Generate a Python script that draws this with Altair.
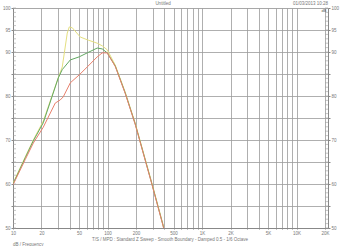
import altair as alt
import pandas as pd

# ---- data ----
yellow_f = [10, 13.5, 16.4, 20.9, 30.1, 33.2, 37.5, 39.4, 42.4, 51.5, 62.5, 77.8, 87.9, 99.3, 120.8, 153.8, 196, 295, 388, 410]
yellow_db = [60.2, 66.2, 70.0, 74.3, 84.1, 86.6, 94.3, 95.7, 95.5, 93.4, 92.7, 92.0, 91.4, 90.5, 87.0, 80.9, 73.9, 60.2, 50.7, 48.0]

green_f = [10, 13.5, 16.4, 20.9, 30.1, 33.2, 40.4, 50.2, 61, 77.8, 87.9, 99.3, 120.8, 153.8, 196, 295, 388, 410]
green_db = [60.0, 66.0, 69.8, 73.9, 84.1, 86.0, 88.2, 88.9, 89.8, 90.9, 90.7, 89.8, 86.8, 80.7, 73.7, 60.0, 50.5, 47.8]

red_f = [10, 13.5, 16.4, 20.9, 28, 31.6, 34, 40.4, 50.2, 61, 77.8, 87.9, 99.3, 120.8, 153.8, 196, 295, 388, 410]
red_db = [59.8, 65.6, 69.3, 72.9, 78.4, 79.1, 79.8, 83.0, 84.8, 86.6, 88.9, 89.8, 89.8, 86.7, 80.6, 73.6, 59.9, 50.4, 47.7]

series_names = ["Yellow", "Green", "Red"]
series_colors = ["#e4df80", "#62a862", "#e8806c"]

x_grid = [10, 20, 30, 40, 50, 60, 70, 80, 90,
          100, 200, 300, 400, 500, 600, 700, 800, 900,
          1000, 2000, 3000, 4000, 5000, 6000, 7000, 8000, 9000,
          10000, 20000]
x_labels = [10, 20, 50, 100, 200, 500, 1000, 2000, 5000, 10000, 20000]
y_grid = [50, 55, 60, 65, 70, 75, 80, 85, 90, 95, 100]
y_labels = [50, 60, 70, 80, 90, 95, 100]
y_minor = list(range(50, 101))

title_text = "Untitled"
date_text = "01/03/2013 10:28"
caption_text = "T/S / MPD : Standard Z Sweep - Smooth Boundary - Damped 0.5 - 1/6 Octave"
corner_text = "dB / Frequency"

rows = []
for name, fs, ds in [("Yellow", yellow_f, yellow_db), ("Green", green_f, green_db), ("Red", red_f, red_db)]:
    for i, (f, d) in enumerate(zip(fs, ds)):
        rows.append({"series": name, "f": f, "db": d, "order": i})
df = pd.DataFrame(rows)

xscale = alt.Scale(type="log", domain=[10, 21500], nice=False)
yscale = alt.Scale(domain=[50, 100], nice=False, zero=False)

lab_list = "[" + ",".join(str(v) for v in x_labels) + "]"
x_label_expr = (f"indexof({lab_list}, datum.value) >= 0 ? "
                "(datum.value >= 1000 ? (datum.value/1000) + 'K' : datum.value) : ''")
ylab_list = "[" + ",".join(str(v) for v in y_labels) + "]"
y_label_expr = f"indexof({ylab_list}, datum.value) >= 0 ? datum.label : ''"

axis_common = dict(labelFontSize=4.5, labelColor="#777777", labelFont="Liberation Sans",
                   gridColor="#9a9a9a", gridWidth=0.8, domainColor="#888888",
                   tickColor="#888888", labelPadding=1, title=None)

lines = alt.Chart(df).mark_line(clip=True, strokeWidth=1).encode(
    x=alt.X("f:Q", scale=xscale,
            axis=alt.Axis(values=x_grid, labelExpr=x_label_expr, grid=True, tickSize=1,
                          labelFlush=False, labelOverlap=False, **axis_common)),
    y=alt.Y("db:Q", scale=yscale,
            axis=alt.Axis(values=y_grid, labelExpr=y_label_expr, grid=True, orient="left",
                          tickSize=2, **axis_common)),
    color=alt.Color("series:N", scale=alt.Scale(domain=series_names, range=series_colors), legend=None),
    order="order:Q",
    detail="series:N",
)

right = alt.Chart(pd.DataFrame({"db": y_grid})).mark_rule(opacity=0).encode(
    y=alt.Y("db:Q", scale=yscale,
            axis=alt.Axis(values=y_grid, labelExpr=y_label_expr, grid=False, orient="right",
                          tickSize=2, **axis_common)),
    x=alt.value(0), x2=alt.value(1),
)

minor_df = pd.DataFrame({"db": y_minor})
minor_left = alt.Chart(minor_df).mark_rule(color="#a0a0a0", strokeWidth=0.6).encode(
    y=alt.Y("db:Q", scale=yscale, axis=None), x=alt.value(0), x2=alt.value(3))
minor_right = alt.Chart(minor_df).mark_rule(color="#a0a0a0", strokeWidth=0.6).encode(
    y=alt.Y("db:Q", scale=yscale, axis=None), x=alt.value(312), x2=alt.value(315))

def txt(s, x, y, align="center", size=4.5, color="#777777"):
    return alt.Chart(pd.DataFrame({"t": [s]})).mark_text(
        align=align, baseline="middle", fontSize=size, color=color, font="Liberation Sans"
    ).encode(text="t:N", x=alt.value(x), y=alt.value(y))

texts = (txt(title_text, 150, -4)
         + txt(date_text, 315, -4, align="right")
         + txt("dB", 311, 3, size=4, color="#555555")
         + txt(caption_text, 157, 232)
         + txt(corner_text, 0, 237, align="left"))

chart = alt.layer(lines, right, minor_left, minor_right, texts).resolve_axis(
    y="independent"
).properties(
    width=315, height=220,
    autosize=alt.AutoSizeParams(type="none"),
    padding={"left": 13, "top": 8, "right": 14, "bottom": 18},
).configure_view(stroke="#666666", strokeWidth=1).configure(background="white")

chart.save("out.html", embed_options={"renderer": "svg", "actions": False})
